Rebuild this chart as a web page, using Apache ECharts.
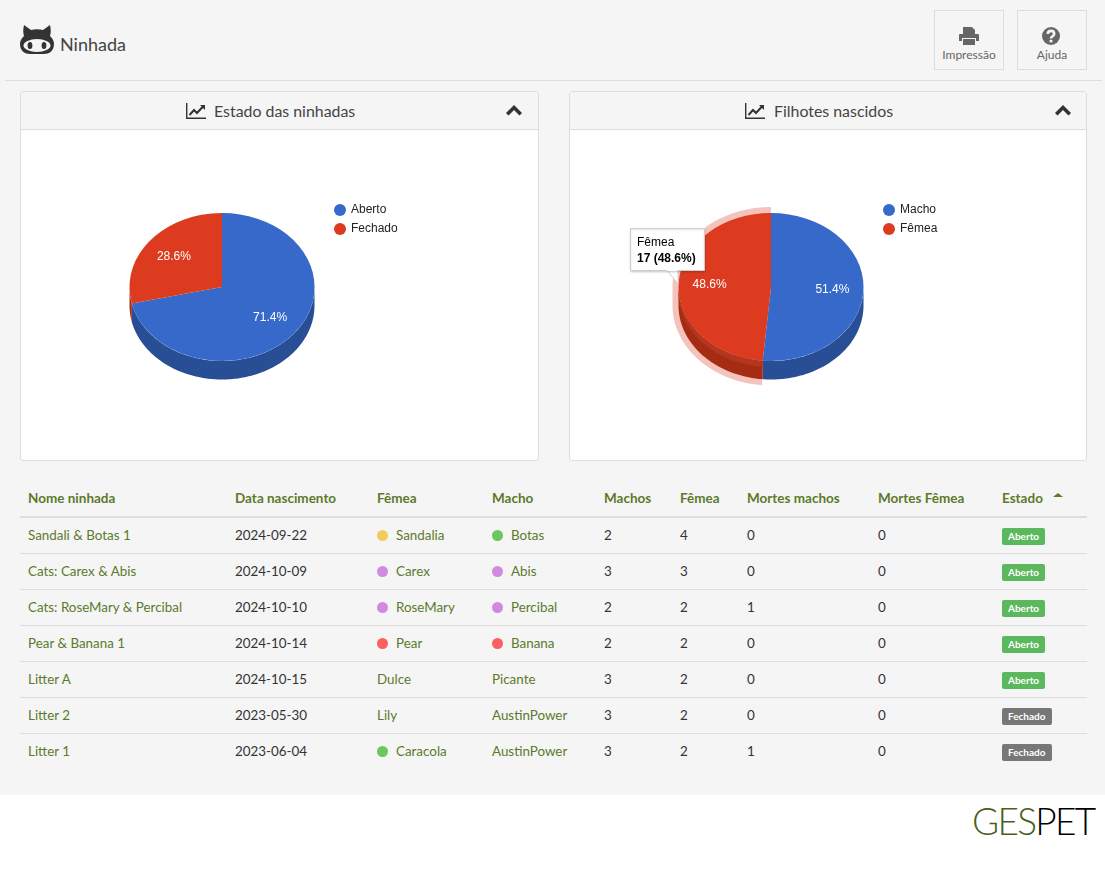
<!DOCTYPE html>
<html>
<head>
<meta charset="utf-8">
<title>Ninhada</title>
<script src="https://cdn.jsdelivr.net/npm/echarts@6/dist/echarts.min.js"></script>
<style>
html,body{margin:0;padding:0;background:#fff;}
body{width:1105px;height:869px;position:relative;overflow:hidden;font-family:Lato,sans-serif;color:#333;}
#page{position:absolute;left:0;top:0;width:1105px;height:795px;background:#f5f5f5;}
#cat{position:absolute;left:20px;top:25px;}
#title{position:absolute;left:60px;top:33px;font-size:18px;line-height:22px;color:#444;}
#rule{position:absolute;left:5px;top:80px;width:1097px;height:1px;background:#ddd;}
.btn{position:absolute;top:10px;width:68px;height:58px;border:1px solid #ddd;text-align:center;font-size:12px;color:#666;}
.btn svg{position:absolute;left:24px;top:16px;}
.btn span{position:absolute;left:0;right:0;top:36px;line-height:16px;}
.panel{position:absolute;top:91px;width:517px;height:368px;border:1px solid #ddd;border-radius:3px;background:#fff;}
.panel .head{height:37px;background:#f5f5f5;border-bottom:1px solid #ddd;position:relative;font-size:15.9px;line-height:38px;color:#444;}
.panel .head span{position:absolute;top:0;}
.panel .head svg{position:absolute;}
.chart{width:517px;height:329px;}
table{position:absolute;left:20px;top:480px;width:1067px;border-collapse:collapse;table-layout:fixed;font-size:13.4px;}
th{height:36px;padding:0 8px;text-align:left;font-size:13.5px;color:#5c7a2c;font-weight:700;border-bottom:2px solid #ddd;}
td{height:34px;padding:0 8px 1px;border-bottom:1px solid #ddd;color:#333;white-space:nowrap;}
tr:last-child td{border-bottom:none;}
td.link{color:#5c7a2c;}
.dot{display:inline-block;width:11px;height:11px;border-radius:50%;margin-right:8px;vertical-align:-1px;}
.badge{display:inline-block;font-size:10px;font-weight:700;color:#fff;line-height:17px;height:17px;padding:0 6px;border-radius:2px;vertical-align:-1px;}
#caret{position:absolute;left:1053px;top:493px;width:0;height:0;border-left:5px solid transparent;border-right:5px solid transparent;border-bottom:4px solid #5c7a2c;}
#logo{position:absolute;left:972px;top:798px;font-size:37px;line-height:46px;font-weight:300;letter-spacing:-1.7px;color:#000;white-space:nowrap;}
#logo b{font-weight:300;color:#4a5f1c;}
</style>
</head>
<body>
<div id="page"></div>
<svg id="cat" width="34" height="29" viewBox="0 0 34 29"><path fill="#333" d="M4 0l7 5c4-1 8-1 12 0l7-5c1 4 1 8 0 11 2.500 2 4 5 4 8 0 7-5 10-10 10H10C5 29 0 26 0 19c0-3 1.500-6 4-8-1-3-1-7 0-11z"/><ellipse cx="17" cy="20.500" rx="13.500" ry="6.500" fill="#f5f5f5"/><ellipse cx="10" cy="20.500" rx="2.400" ry="3.600" fill="#333"/><ellipse cx="24" cy="20.500" rx="2.400" ry="3.600" fill="#333"/></svg>
<div id="title">Ninhada</div>
<div id="rule"></div>
<div class="btn" style="left:934px"><svg width="20" height="18" viewBox="0 0 20 18"><path fill="#666" d="M4 0h9l3 3v4H4zM1 7h18c1 0 1 1 1 1v6h-3v-3H3v3H0V8s0-1 1-1zM4 12h12v6H4z"/></svg><span>Impressão</span></div>
<div class="btn" style="left:1017px"><svg width="18" height="18" viewBox="0 0 18 18"><circle cx="9" cy="9" r="9" fill="#666"/><path fill="none" stroke="#f5f5f5" stroke-width="2.600" d="M5.800 7c0-4.200 6.400-4.200 6.400 0 0 2.400-3.200 2.200-3.200 4.600"/><rect x="7.600" y="12.800" width="2.800" height="2.600" fill="#f5f5f5"/></svg><span>Ajuda</span></div>
<div class="panel" style="left:20px"><div class="head"><svg style="left:165px;top:11px" width="20" height="16" viewBox="0 0 20 16"><path fill="none" stroke="#333" stroke-width="1.400" d="M.7 0v15.300H20"/><path fill="none" stroke="#333" stroke-width="2" d="M3.500 12l4.500-5 3 3 6-6.500"/><path fill="#333" d="M14 2h5v5z"/></svg><span style="left:193px">Estado das ninhadas</span><svg style="left:485px;top:13px" width="16" height="11" viewBox="0 0 16 11"><path fill="#333" d="M8 0l8 8-2.500 2.500L8 5l-5.500 5.500L0 8z"/></svg></div><div id="chart1" class="chart"></div></div>
<div class="panel" style="left:569px;width:516px"><div class="head"><svg style="left:175px;top:11px" width="20" height="16" viewBox="0 0 20 16"><path fill="none" stroke="#333" stroke-width="1.400" d="M.7 0v15.300H20"/><path fill="none" stroke="#333" stroke-width="2" d="M3.500 12l4.500-5 3 3 6-6.500"/><path fill="#333" d="M14 2h5v5z"/></svg><span style="left:204px">Filhotes nascidos</span><svg style="left:485px;top:13px" width="16" height="11" viewBox="0 0 16 11"><path fill="#333" d="M8 0l8 8-2.500 2.500L8 5l-5.500 5.500L0 8z"/></svg></div><div id="chart2" class="chart" style="width:516px"></div></div>
<table id="litters"></table>
<div id="caret"></div>
<div id="logo"><b>GES</b>PET</div>
<script>
var statusCategories = ['Aberto', 'Fechado'];
var statusValues = [5, 2];
var sexCategories = ['Macho', 'Fêmea'];
var sexValues = [18, 17];
var sliceColors = ['#3669c9', '#dc3b20'];
var sideColors = ['#284e96', '#a52c13'];

var headers = ['Nome ninhada', 'Data nascimento', 'Fêmea', 'Macho', 'Machos', 'Fêmea', 'Mortes machos', 'Mortes Fêmea', 'Estado'];
var columnWidths = [207, 142, 115, 112, 76, 67, 131, 124, 93];
var litterNames = ['Sandali & Botas 1', 'Cats: Carex & Abis', 'Cats: RoseMary & Percibal', 'Pear & Banana 1', 'Litter A', 'Litter 2', 'Litter 1'];
var birthDates = ['2024-09-22', '2024-10-09', '2024-10-10', '2024-10-14', '2024-10-15', '2023-05-30', '2023-06-04'];
var femaleNames = ['Sandalia', 'Carex', 'RoseMary', 'Pear', 'Dulce', 'Lily', 'Caracola'];
var femaleDots = ['#f5cb5c', '#d08be0', '#d08be0', '#fb6060', '', '', '#6cc75e'];
var maleNames = ['Botas', 'Abis', 'Percibal', 'Banana', 'Picante', 'AustinPower', 'AustinPower'];
var maleDots = ['#6cc75e', '#d08be0', '#d08be0', '#fb6060', '', '', ''];
var malesBorn = [2, 3, 2, 2, 3, 3, 3];
var femalesBorn = [4, 3, 2, 2, 2, 2, 2];
var maleDeaths = [0, 0, 1, 0, 0, 0, 1];
var femaleDeaths = [0, 0, 0, 0, 0, 0, 0];
var litterStates = ['Aberto', 'Aberto', 'Aberto', 'Aberto', 'Aberto', 'Fechado', 'Fechado'];

// tabela
function nameCell(name, dot){
	var html = '<td class="link">';
	if(dot){
		html += '<span class="dot" style="background:' + dot + '"></span>';
	}
	return html + name + '</td>';
}
var tableHtml = '<colgroup>';
for(var c = 0; c < columnWidths.length; c++){
	tableHtml += '<col style="width:' + columnWidths[c] + 'px">';
}
tableHtml += '</colgroup><tr>';
for(var h = 0; h < headers.length; h++){
	tableHtml += '<th>' + headers[h] + '</th>';
}
tableHtml += '</tr>';
for(var r = 0; r < litterNames.length; r++){
	var badgeColor = litterStates[r] == 'Aberto' ? '#5cb85c' : '#777';
	tableHtml += '<tr><td class="link">' + litterNames[r].replace('&', '&amp;') + '</td><td>' + birthDates[r] + '</td>'
		+ nameCell(femaleNames[r], femaleDots[r]) + nameCell(maleNames[r], maleDots[r])
		+ '<td>' + malesBorn[r] + '</td><td>' + femalesBorn[r] + '</td><td>' + maleDeaths[r] + '</td><td>' + femaleDeaths[r] + '</td>'
		+ '<td><span class="badge" style="background:' + badgeColor + '">' + litterStates[r] + '</span></td></tr>';
}
document.getElementById('litters').innerHTML = tableHtml;

// pizza 3D
var RX = 92.5, RY = 74, DEPTH = 18.5, RING = 6;

function arcPoints(cx, cy, rx, ry, a0, a1){
	var pts = [], steps = Math.max(2, Math.ceil(Math.abs(a1 - a0) / 0.02));
	for(var i = 0; i <= steps; i++){
		var a = a0 + (a1 - a0) * i / steps;
		pts.push([cx + rx * Math.cos(a), cy + ry * Math.sin(a)]);
	}
	return pts;
}

function sliceItem(cx, cy, start, end, color, sideColor, percent, hover){
	var children = [];
	var a0 = -Math.PI / 2 + start * 2 * Math.PI;
	var a1 = -Math.PI / 2 + end * 2 * Math.PI;
	// parede visivel: parte da frente da elipse
	var s0 = Math.max(a0, 0), s1 = Math.min(a1, Math.PI);
	if(s1 > s0){
		var upper = arcPoints(cx, cy, RX, RY, s0, s1);
		var lower = arcPoints(cx, cy + DEPTH, RX, RY, s1, s0);
		children.push({type: 'polygon', z2: 2, shape: {points: upper.concat(lower)}, style: {fill: sideColor}});
		if(hover){
			var band = arcPoints(cx, cy + RING, RX, RY, s1, s0);
			children.push({type: 'polygon', z2: 3, shape: {points: upper.concat(band)}, style: {fill: '#b5361f'}});
		}
	}
	if(hover){
		var outerTop = arcPoints(cx, cy, RX + RING, RY + RING, a1, Math.PI);
		var outerLow = arcPoints(cx, cy + DEPTH, RX + RING, RY + RING, Math.PI, a0);
		var edge = [cx + RX * Math.cos(a0), cy + RY * Math.sin(a0)];
		children.push({type: 'polygon', z2: 1, shape: {points: outerTop.concat(outerLow, [edge, [cx, cy]])}, style: {fill: color, opacity: 0.3}});
	}
	children.push({
		type: 'sector', z2: 5, x: cx, y: cy, scaleY: RY / RX,
		shape: {cx: 0, cy: 0, r0: 0, r: RX, startAngle: a0, endAngle: a1, clockwise: true},
		style: {fill: color}
	});
	var mid = (a0 + a1) / 2;
	children.push({
		type: 'text', z2: 6,
		x: cx + RX * 0.665 * Math.cos(mid), y: cy + RY * 0.665 * Math.sin(mid),
		style: {text: percent, fill: '#fff', font: '12px "Liberation Sans", Arial, sans-serif', align: 'center', verticalAlign: 'middle'}
	});
	return {type: 'group', children: children};
}

function drawPie(elId, categories, values, cx, hoverIndex){
	var chart = echarts.init(document.getElementById(elId));
	var total = 0;
	for(var i = 0; i < values.length; i++){
		total += values[i];
	}
	var series = [], acc = 0;
	categories.forEach(function(name, idx){
		var start = acc / total, end = (acc + values[idx]) / total;
		acc += values[idx];
		series.push({
			name: name,
			type: 'custom',
			coordinateSystem: 'none',
			silent: true,
			animation: false,
			itemStyle: {color: sliceColors[idx]},
			data: [values[idx]],
			renderItem: function(params, api){
				var percent = (api.value(0) / total * 100).toFixed(1) + '%';
				return sliceItem(cx, 157, start, end, sliceColors[idx], sideColors[idx], percent, idx == hoverIndex);
			}
		});
	});
	var option = {
		animation: false,
		legend: {
			show: true, orient: 'vertical', left: cx + 112, top: 74, padding: 0, itemWidth: 12, itemHeight: 12, itemGap: 7,
			icon: 'circle', selectedMode: false, data: categories,
			textStyle: {fontFamily: '"Liberation Sans", Arial, sans-serif', fontSize: 12, color: '#222'}
		},
		series: series
	};
	if(hoverIndex != null){
		var val = values[hoverIndex];
		var tipFont = '"Liberation Sans", Arial, sans-serif';
		// balao fixo sobre a fatia destacada
		option.graphic = [{
			type: 'group', left: 60, top: 98, silent: true,
			children: [
				{type: 'polygon', z: 20, shape: {points: [[36, 41], [48, 41], [48, 56]]}, style: {fill: '#fff', stroke: '#ccc', lineWidth: 1}},
				{type: 'rect', z: 20, shape: {x: 0.5, y: 0.5, width: 74, height: 42}, style: {fill: '#fff', stroke: '#ccc', lineWidth: 1, shadowBlur: 2, shadowColor: 'rgba(0,0,0,0.15)', shadowOffsetY: 1}},
				{type: 'rect', z: 21, shape: {x: 37, y: 40, width: 10.5, height: 3}, style: {fill: '#fff'}},
				{type: 'text', z: 22, x: 7, y: 8.5, style: {text: categories[hoverIndex], fill: '#000', font: '12px ' + tipFont}},
				{type: 'text', z: 22, x: 7, y: 24.5, style: {text: val + ' (' + (val / total * 100).toFixed(1) + '%)', fill: '#000', font: 'bold 12px ' + tipFont}}
			]
		}];
	}
	chart.setOption(option);
}

drawPie('chart1', statusCategories, statusValues, 201, null);
drawPie('chart2', sexCategories, sexValues, 201, 1);
</script>
</body>
</html>
